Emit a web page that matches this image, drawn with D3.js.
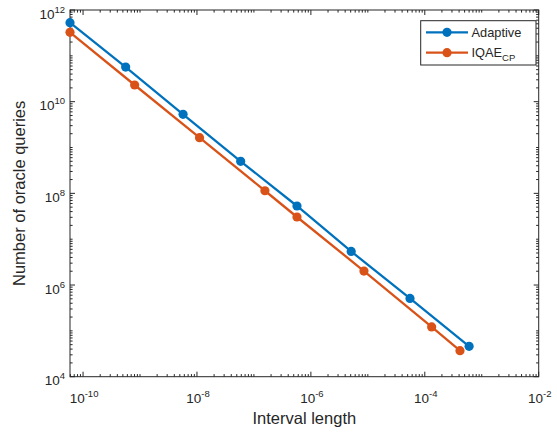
<!DOCTYPE html>
<html><head><meta charset="utf-8">
<script src="https://cdn.jsdelivr.net/npm/d3@7"></script>
<style>body{margin:0;background:#fff}svg{display:block}text{font-family:"Liberation Sans",Arial,sans-serif;fill:#262626}</style>
</head><body><svg id="c" width="557" height="434"></svg>
<script>
const adaptiveX = [5.9e-11, 5.6e-10, 5.7e-9, 5.85e-8, 5.7e-7, 5.1e-6, 5.5e-5, 6.0e-4];
const adaptiveY = [5.3e11, 5.7e10, 5.3e9, 5.0e8, 5.3e7, 5.4e6, 5.1e5, 4.6e4];
const iqaeX = [5.9e-11, 8.05e-10, 1.11e-8, 1.56e-7, 5.7e-7, 8.55e-6, 1.32e-4, 4.15e-4];
const iqaeY = [3.26e11, 2.31e10, 1.64e9, 1.14e8, 3.05e7, 2.02e6, 1.22e5, 3.7e4];
const xTickExps = [-10, -8, -6, -4, -2];
const yTickExps = [4, 6, 8, 10, 12];
const xDomain = [5.9e-11, 1e-2];
const yDomain = [1e4, 1e12];
const seriesNames = ["Adaptive", "IQAE"];
const colors = ["#0072BD", "#D95319"];

const svg = d3.select("#c");
const L = 70, T = 10, R = 538.7, B = 376.7;
const x = d3.scaleLog().domain(xDomain).range([L, R]);
const y = d3.scaleLog().domain(yDomain).range([B, T]);
const ink = "#262626";

function minorTicks(dom) {
  const out = [];
  const lo = Math.floor(Math.log10(dom[0])), hi = Math.ceil(Math.log10(dom[1]));
  for (let e = lo; e <= hi; e++) for (let k = 1; k < 10; k++) {
    const v = k * Math.pow(10, e);
    if (v >= dom[0] * 0.9999 && v <= dom[1] * 1.0001) out.push(v);
  }
  return out;
}
const xMajor = xTickExps.map(e => Math.pow(10, e));
const yMajor = yTickExps.map(e => Math.pow(10, e));
const g = svg.append("g");
const xm = minorTicks(xDomain), ym = minorTicks(yDomain);
const isMaj = (v, arr) => arr.some(m => Math.abs(Math.log10(v) - Math.log10(m)) < 1e-6);
xm.forEach(v => {
  const len = isMaj(v, xMajor) ? 5 : 2.6;
  const px = x(v);
  g.append("line").attr("x1", px).attr("x2", px).attr("y1", B).attr("y2", B - len).attr("stroke", ink).attr("stroke-width", 1);
  g.append("line").attr("x1", px).attr("x2", px).attr("y1", T).attr("y2", T + len).attr("stroke", ink).attr("stroke-width", 1);
});
ym.forEach(v => {
  const len = isMaj(v, yMajor) ? 5 : 2.6;
  const py = y(v);
  g.append("line").attr("y1", py).attr("y2", py).attr("x1", L).attr("x2", L + len).attr("stroke", ink).attr("stroke-width", 1);
  g.append("line").attr("y1", py).attr("y2", py).attr("x1", R).attr("x2", R - len).attr("stroke", ink).attr("stroke-width", 1);
});
svg.append("rect").attr("x", L).attr("y", T).attr("width", R - L).attr("height", B - T)
  .attr("fill", "none").attr("stroke", ink).attr("stroke-width", 1);

xTickExps.forEach(e => {
  const t = svg.append("text").attr("x", x(Math.pow(10, e)) + 1).attr("y", 402.5).attr("text-anchor", "middle").style("font-size", "13.5px");
  t.append("tspan").text("10");
  t.append("tspan").attr("dy", -6).style("font-size", "9.5px").text(e);
});
yTickExps.forEach(e => {
  const t = svg.append("text").attr("x", 65).attr("y", y(Math.pow(10, e)) + 8.5).attr("text-anchor", "end").style("font-size", "13.5px");
  t.append("tspan").text("10");
  t.append("tspan").attr("dy", -6).style("font-size", "9.5px").text(e);
});

svg.append("text").attr("x", (L + R) / 2).attr("y", 424).attr("text-anchor", "middle").style("font-size", "16.5px").text("Interval length");
svg.append("text").attr("transform", `translate(25,${(T + B) / 2}) rotate(-90)`).attr("text-anchor", "middle").style("font-size", "16.5px").text("Number of oracle queries");

const series = [
  adaptiveX.map((v, i) => [v, adaptiveY[i]]),
  iqaeX.map((v, i) => [v, iqaeY[i]])
];
const line = d3.line().x(d => x(d[0])).y(d => y(d[1]));
series.forEach((s, i) => {
  svg.append("path").attr("d", line(s)).attr("fill", "none").attr("stroke", colors[i]).attr("stroke-width", 2.3);
  svg.selectAll(null).data(s).enter().append("circle")
    .attr("cx", d => x(d[0])).attr("cy", d => y(d[1])).attr("r", 4.6).attr("fill", colors[i]);
});

const lg = svg.append("g");
lg.append("rect").attr("x", 420.7).attr("y", 20.7).attr("width", 115.3).attr("height", 44.3).attr("fill", "#fff").attr("stroke", ink).attr("stroke-width", 1);
const rowsY = [32.3, 52.7];
seriesNames.forEach((n, i) => {
  lg.append("line").attr("x1", 426).attr("x2", 468).attr("y1", rowsY[i]).attr("y2", rowsY[i]).attr("stroke", colors[i]).attr("stroke-width", 2.3);
  lg.append("circle").attr("cx", 447).attr("cy", rowsY[i]).attr("r", 4.6).attr("fill", colors[i]);
  const t = lg.append("text").attr("x", 471.5).attr("y", rowsY[i] + 4.5).style("font-size", "12.8px");
  t.append("tspan").text(n);
  if (i === 1) t.append("tspan").attr("dy", 4).style("font-size", "9.5px").text("CP");
});
</script></body></html>
